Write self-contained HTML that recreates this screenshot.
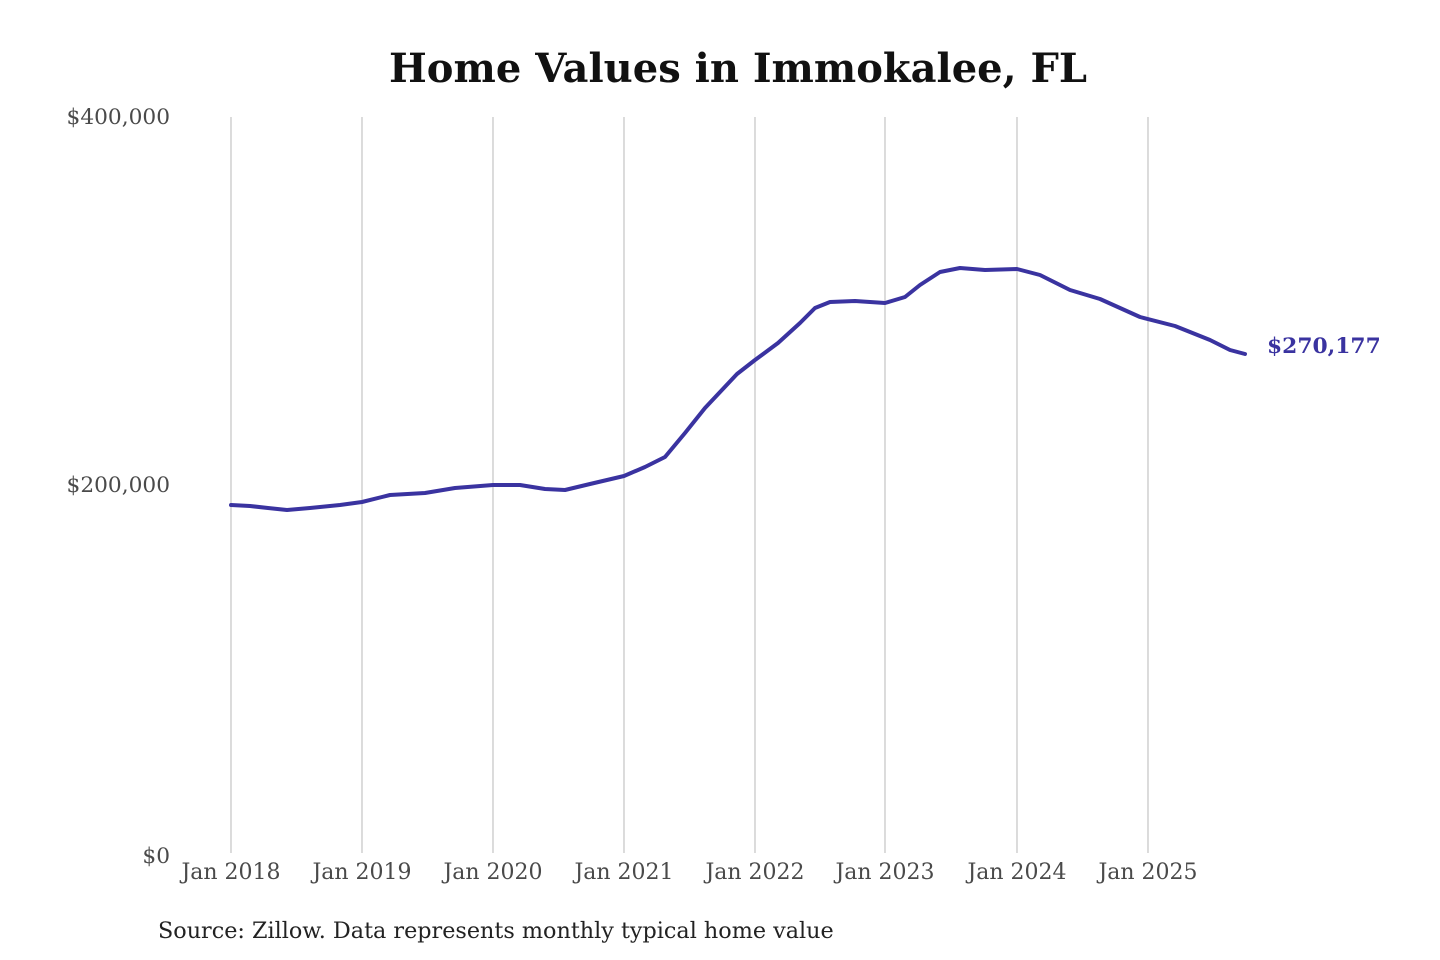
<!DOCTYPE html>
<html><head><meta charset="utf-8"><style>
html,body{margin:0;padding:0;background:#fff;}
svg{display:block;}
</style></head><body>
<svg width="1440" height="960" viewBox="0 0 1440 960" xmlns="http://www.w3.org/2000/svg" font-family="'DejaVu Serif','Liberation Serif',serif">
<rect width="1440" height="960" fill="#fff"/>
<text x="738" y="82" text-anchor="middle" font-size="40" font-weight="bold" fill="#111">Home Values in Immokalee, FL</text>
<g stroke="#c8c8c8" stroke-width="1.3">
<line x1="231" y1="117" x2="231" y2="853"/>
<line x1="362" y1="117" x2="362" y2="853"/>
<line x1="493" y1="117" x2="493" y2="853"/>
<line x1="624" y1="117" x2="624" y2="853"/>
<line x1="755" y1="117" x2="755" y2="853"/>
<line x1="885" y1="117" x2="885" y2="853"/>
<line x1="1017" y1="117" x2="1017" y2="853"/>
<line x1="1148" y1="117" x2="1148" y2="853"/>
</g>
<g font-size="21.7" fill="#4a4a4a">
<text x="170" y="124" text-anchor="end">$400,000</text>
<text x="170" y="492" text-anchor="end">$200,000</text>
<text x="170" y="863" text-anchor="end">$0</text>
<g text-anchor="middle" font-size="22">
<text x="231" y="879">Jan 2018</text>
<text x="362" y="879">Jan 2019</text>
<text x="493" y="879">Jan 2020</text>
<text x="624" y="879">Jan 2021</text>
<text x="755" y="879">Jan 2022</text>
<text x="885" y="879">Jan 2023</text>
<text x="1017" y="879">Jan 2024</text>
<text x="1148" y="879">Jan 2025</text>
</g></g>
<polyline fill="none" stroke="#3a33a0" stroke-width="4" stroke-linejoin="round" stroke-linecap="round"
points="231,505 250,506 268,508 287,510 310,508 340,505 362,502 390,495 425,493 455,488 493,485 520,485 545,489 565,490 590,484 624,476 645,467 665,457 685,433 705,408 737,374 755,360 778,343 800,323 815,308 830,302 855,301 885,303 905,297 920,285 940,272 960,268 985,270 1017,269 1040,275 1070,290 1100,299 1140,317 1175,326 1210,340 1230,350 1245,354"/>
<text x="1267" y="353" font-size="21.8" font-weight="bold" fill="#3a33a0">$270,177</text>
<text x="158" y="938" font-size="22.3" fill="#222">Source: Zillow. Data represents monthly typical home value</text>
</svg>
</body></html>
